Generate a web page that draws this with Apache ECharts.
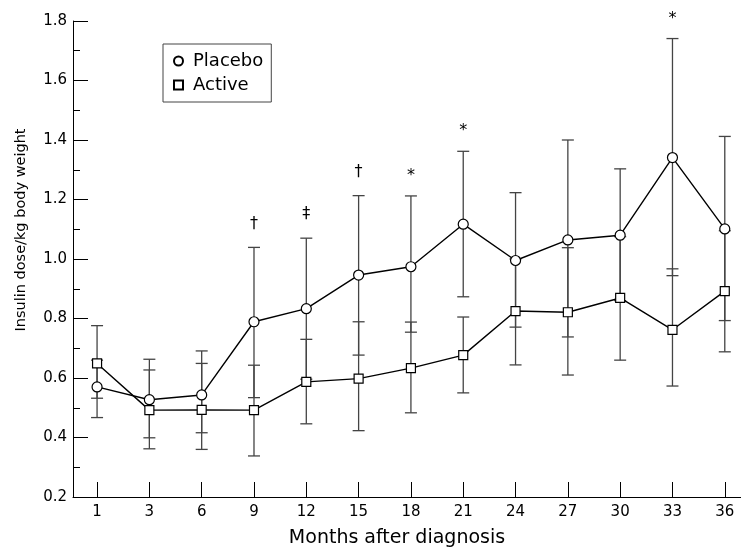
<!DOCTYPE html>
<html>
<head>
<meta charset="utf-8">
<script src="https://cdn.jsdelivr.net/npm/echarts@6.0.0/dist/echarts.min.js"></script>
<style>
  html, body { margin: 0; padding: 0; background: #fff; }
  #main { width: 741px; height: 548px; }
</style>
</head>
<body>
<div id="main"></div>
<script>
// months after diagnosis (x categories)
var months = ['1', '3', '6', '9', '12', '15', '18', '21', '24', '27', '30', '33', '36'];

// placebo: mean and error bar ends
var placeboMean  = [0.570, 0.527, 0.543, 0.789, 0.833, 0.946, 0.974, 1.117, 0.995, 1.064, 1.080, 1.341, 1.101];
var placeboUpper = [0.660, 0.663, 0.691, 1.039, 1.070, 1.213, 1.212, 1.362, 1.223, 1.400, 1.303, 1.741, 1.412];
var placeboLower = [0.467, 0.399, 0.416, 0.534, 0.596, 0.677, 0.754, 0.873, 0.771, 0.738, 0.860, 0.944, 0.793];

// active: mean and error bar ends
var activeMean  = [0.649, 0.492, 0.493, 0.492, 0.587, 0.598, 0.633, 0.677, 0.825, 0.821, 0.869, 0.762, 0.892];
var activeUpper = [0.776, 0.627, 0.649, 0.643, 0.730, 0.789, 0.788, 0.805, 1.000, 1.038, 1.075, 0.967, 1.095];
var activeLower = [0.532, 0.362, 0.360, 0.338, 0.446, 0.423, 0.483, 0.550, 0.644, 0.610, 0.660, 0.573, 0.688];

// significance marks over the placebo bars
var marks = ['', '', '', '\u2020', '\u2021', '\u2020', '*', '*', '', '', '', '*', ''];

var FONT = 'DejaVu Sans';
var idx = months.map(function (m, i) { return i; });

var chart = echarts.init(document.getElementById('main'));

function pairs(vals) {
  return vals.map(function (v, i) { return [i, v]; });
}
function barData(lower, upper) {
  return lower.map(function (v, i) { return [i, v, upper[i], marks[i]]; });
}

function renderBar(withMarks) {
  return function (params, api) {
    var top = api.coord([api.value(0), api.value(2)]);
    var bot = api.coord([api.value(0), api.value(1)]);
    var x = top[0];
    var st = { stroke: '#444', lineWidth: 1.3 };
    var children = [
      { type: 'line', shape: { x1: x, y1: top[1], x2: x, y2: bot[1] }, style: st },
      { type: 'line', shape: { x1: x - 6, y1: top[1], x2: x + 6, y2: top[1] }, style: st },
      { type: 'line', shape: { x1: x - 6, y1: bot[1], x2: x + 6, y2: bot[1] }, style: st }
    ];
    var m = api.value(3);
    if (withMarks && m) {
      // asterisk sits high in the em box, so pull it down a little
      var off = m === '*' ? 20 : 24;
      children.push({
        type: 'text',
        style: {
          text: m, x: x, y: top[1] - off,
          align: 'center', verticalAlign: 'middle',
          fontSize: 16, fontFamily: FONT, fill: '#000'
        }
      });
    }
    return { type: 'group', children: children };
  };
}

var option = {
  animation: false,
  textStyle: { fontFamily: FONT, color: '#000' },
  grid: { left: 73, right: 0, top: 21, bottom: 51 },
  legend: {
    orient: 'vertical',
    left: 163,
    top: 44,
    padding: [8, 8, 8, 10],
    itemGap: 6,
    itemWidth: 9,
    itemHeight: 9,
    borderColor: '#444',
    borderWidth: 1,
    textStyle: { fontSize: 18, fontFamily: FONT, color: '#000', padding: [0, 0, 0, 5] },
    data: [
      { name: 'Placebo', icon: 'circle' },
      { name: 'Active', icon: 'rect' }
    ]
  },
  xAxis: {
    type: 'value',
    min: -0.46,
    max: 12.31,
    splitLine: { show: false },
    axisLine: { onZero: false, lineStyle: { color: '#000', width: 1 } },
    axisTick: { inside: true, length: 15, customValues: idx, lineStyle: { color: '#000' } },
    axisLabel: {
      customValues: idx,
      margin: 8,
      fontSize: 15,
      color: '#000',
      formatter: function (v) { return months[Math.round(v)]; }
    }
  },
  yAxis: {
    type: 'value',
    min: 0.2,
    max: 1.8,
    interval: 0.2,
    splitLine: { show: false },
    axisLine: { show: true, onZero: false, lineStyle: { color: '#000', width: 1 } },
    axisTick: { show: true, inside: true, length: 15, lineStyle: { color: '#000' } },
    minorTick: { show: true, splitNumber: 2, length: 7, lineStyle: { color: '#000' } },
    axisLabel: {
      margin: 6,
      fontSize: 15,
      color: '#000',
      formatter: function (v) { return v.toFixed(1); }
    }
  },
  graphic: [
    {
      type: 'text', x: 21, y: 230, rotation: Math.PI / 2,
      style: {
        text: 'Insulin dose/kg body weight', align: 'center', verticalAlign: 'middle',
        fontSize: 14.5, fontFamily: FONT, fill: '#000'
      }
    },
    {
      type: 'text', x: 397, y: 538,
      style: {
        text: 'Months after diagnosis', align: 'center', verticalAlign: 'middle',
        fontSize: 19, fontFamily: FONT, fill: '#000'
      }
    }
  ],
  series: [
    {
      name: 'Placebo SD',
      type: 'custom',
      renderItem: renderBar(true),
      data: barData(placeboLower, placeboUpper),
      z: 1
    },
    {
      name: 'Active SD',
      type: 'custom',
      renderItem: renderBar(false),
      data: barData(activeLower, activeUpper),
      z: 1
    },
    {
      name: 'Placebo',
      type: 'line',
      data: pairs(placeboMean),
      symbol: 'circle',
      symbolSize: 10,
      showAllSymbol: true,
      lineStyle: { color: '#000', width: 1.4 },
      itemStyle: { color: '#fff', borderColor: '#000', borderWidth: 1.2 },
      z: 3
    },
    {
      name: 'Active',
      type: 'line',
      data: pairs(activeMean),
      symbol: 'rect',
      symbolSize: 9,
      showAllSymbol: true,
      lineStyle: { color: '#000', width: 1.4 },
      itemStyle: { color: '#fff', borderColor: '#000', borderWidth: 1.2 },
      z: 3
    }
  ]
};

chart.setOption(option);
window.addEventListener('resize', function () { chart.resize(); });
</script>
</body>
</html>
